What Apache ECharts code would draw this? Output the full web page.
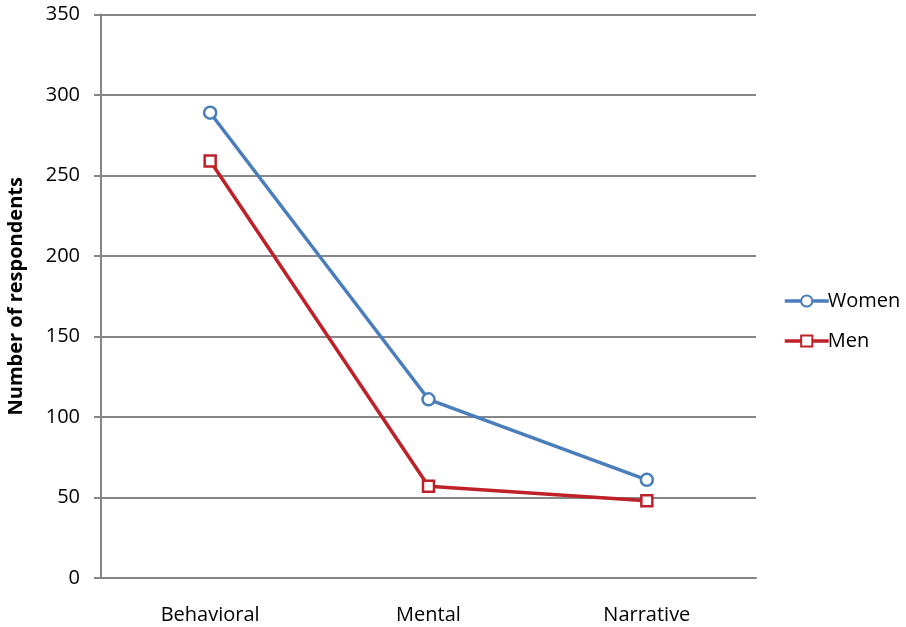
<!DOCTYPE html>
<html><head><meta charset="utf-8">
<script src="https://cdn.jsdelivr.net/npm/echarts@6/dist/echarts.min.js"></script>
<style>html,body{margin:0;padding:0;background:#fff}#c{width:906px;height:627px}</style>
</head><body><div id="c"></div>
<script>
const categories = ["Behavioral", "Mental", "Narrative"];
const women = [289, 111, 61];
const men = [259, 57, 48];
const yTicks = [0, 50, 100, 150, 200, 250, 300, 350];

const FONT = "Open Sans";
const chart = echarts.init(document.getElementById('c'), null, {renderer: 'canvas'});
chart.setOption({
  animation: false,
  textStyle: {fontFamily: FONT},
  grid: {left: 101, right: 150, top: 14.5, bottom: 49, outerBoundsMode: 'none', containLabel: false},
  legend: {
    orient: 'vertical', left: 778, top: 285, itemGap: 18, padding: 5,
    itemWidth: 44, itemHeight: 14,
    textStyle: {fontFamily: FONT, fontSize: 20, lineHeight: 22, color: '#000', padding: [0,0,0,-6]},
    data: [
      {name: 'Women', lineStyle: {width: 3.5}},
      {name: 'Men', lineStyle: {width: 3.5}}
    ]
  },
  xAxis: {
    type: 'category', data: categories, boundaryGap: true,
    axisLine: {lineStyle: {color: '#868686', width: 2}},
    axisTick: {show: false},
    axisLabel: {color: '#000', fontSize: 20, fontFamily: FONT, margin: 27}
  },
  yAxis: {
    type: 'value', min: yTicks[0], max: yTicks[yTicks.length-1], interval: 50,
    name: 'Number of respondents', nameLocation: 'middle', nameGap: 75,
    nameTextStyle: {fontFamily: FONT, fontSize: 20, fontWeight: 'bold', color: '#000'},
    axisLine: {show: true, lineStyle: {color: '#868686', width: 2}},
    axisTick: {show: true, length: 7, lineStyle: {color: '#868686', width: 2}},
    splitLine: {lineStyle: {color: '#868686', width: 2}},
    axisLabel: {color: '#000', fontSize: 20, fontFamily: FONT, margin: 21}
  },
  series: [
    {name: 'Women', type: 'line', data: women, symbol: 'circle', symbolSize: 12,
     color: '#4A7EBB',
     lineStyle: {color: '#4A7EBB', width: 3.5},
     itemStyle: {color: '#fff', borderColor: '#4A7EBB', borderWidth: 2.5}},
    {name: 'Men', type: 'line', data: men, symbol: 'rect', symbolSize: 11,
     color: '#BE2128',
     lineStyle: {color: '#BE2128', width: 3.5},
     itemStyle: {color: '#fff', borderColor: '#BE2128', borderWidth: 2.5}}
  ]
});
</script></body></html>
